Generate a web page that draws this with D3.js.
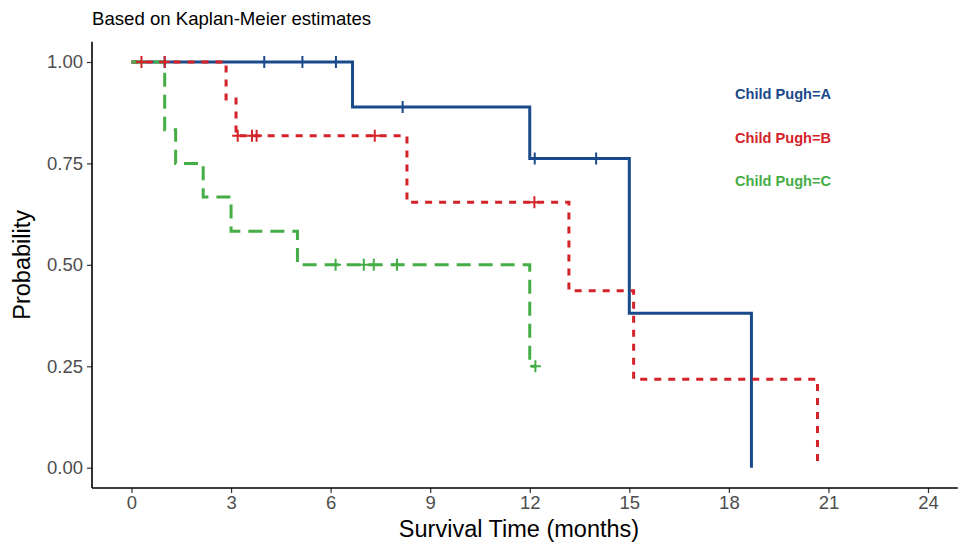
<!DOCTYPE html>
<html><head><meta charset="utf-8">
<script src="https://cdn.jsdelivr.net/npm/d3@7"></script>
<style>body{margin:0;background:#fff}svg{display:block}text{font-family:"Liberation Sans",Arial,sans-serif}</style>
</head><body>
<svg id="c" width="960" height="543"></svg>
<script>
// Data
const groups = ["Child Pugh=A", "Child Pugh=B", "Child Pugh=C"];
const timesA = [0, 6.66, 12.0, 15.0, 18.68];
const survA  = [1, 0.889, 0.762, 0.381, 0];
const censA  = [1.0, 4.0, 5.15, 6.16, 8.17, 12.15, 14.0];
const timesB = [0, 2.85, 3.15, 8.3, 13.18, 15.13, 20.67];
const survB  = [1, 0.909, 0.818, 0.654, 0.436, 0.218, 0];
const censB  = [0.3, 1.0, 3.2, 3.63, 3.77, 7.33, 12.14];
const timesC = [0, 1.0, 1.33, 2.16, 3.0, 5.0, 12.0, 12.17];
const survC  = [1, 0.833, 0.75, 0.667, 0.583, 0.5, 0.25, 0.25];
const censC  = [6.15, 7.0, 7.3, 8.0, 12.17];
const xTicks = [0, 3, 6, 9, 12, 15, 18, 21, 24];
const yTicks = [0, 0.25, 0.5, 0.75, 1];

const colors = ["#1a4a8b", "#d52229", "#45ad45"];
const dashes = [null, "7,7", "14,8"];

const svg = d3.select("#c");
const x = d3.scaleLinear().domain([0, 24]).range([131.5, 928]);
const y = d3.scaleLinear().domain([0, 1]).range([467.7, 62]);
const xMin = -1.19, xMax = 24.9, yMin = -0.05, yMax = 1.05;

// axes
const xAxis = d3.axisBottom(x).tickValues(xTicks).tickSize(5).tickPadding(3).tickFormat(d3.format("d"));
const gx = svg.append("g").attr("transform", `translate(0,${y(yMin)})`).call(xAxis);
gx.select(".domain").remove();
gx.append("line").attr("x1", x(xMin)).attr("x2", x(xMax)).attr("stroke", "#000").attr("stroke-width", 1.6);
const yAxis = d3.axisLeft(y).tickValues(yTicks).tickSize(5).tickPadding(4).tickFormat(d3.format(".2f"));
const gy = svg.append("g").attr("transform", `translate(${x(xMin)},0)`).call(yAxis);
gy.select(".domain").remove();
gy.append("line").attr("y1", y(yMin)).attr("y2", y(yMax)).attr("stroke", "#000").attr("stroke-width", 1.6);
[gx, gy].forEach(g => {
  g.selectAll(".tick line").attr("stroke", "#333").attr("stroke-width", 1.2);
  g.selectAll(".tick text").attr("fill", "#4d4d4d").style("font-size", "18.5px").style("font-family", "Liberation Sans, Arial, sans-serif");
});

const data = [
  {t: timesA, s: survA, c: censA},
  {t: timesB, s: survB, c: censB},
  {t: timesC, s: survC, c: censC}
];
const line = d3.line().x(d => x(d[0])).y(d => y(d[1])).curve(d3.curveStepAfter);
function survAt(g, tt) {
  let v = g.s[0];
  for (let i = 0; i < g.t.length; i++) if (g.t[i] <= tt) v = g.s[i];
  return v;
}
data.forEach((g, i) => {
  const pts = g.t.map((t, j) => [t, g.s[j]]);
  const p = svg.append("path").attr("d", line(pts)).attr("fill", "none")
    .attr("stroke", colors[i]).attr("stroke-width", 3);
  if (dashes[i]) p.attr("stroke-dasharray", dashes[i]);
});
data.forEach((g, i) => {
  g.c.forEach(tt => {
    const cx = x(tt), cy = y(survAt(g, tt));
    svg.append("path").attr("d", `M${cx-5.5},${cy}H${cx+5.5}M${cx},${cy-6}V${cy+6}`)
      .attr("stroke", colors[i]).attr("stroke-width", 2).attr("fill", "none");
  });
});

// legend
groups.forEach((n, i) => {
  svg.append("text").attr("x", 735).attr("y", 99 + i * 43.5).text(n)
    .attr("fill", colors[i]).style("font-size", "14.6px").style("font-weight", "bold");
});

// titles
svg.append("text").attr("x", 92).attr("y", 25).text("Based on Kaplan-Meier estimates")
  .style("font-size", "18.6px").attr("fill", "#000");
svg.append("text").attr("x", 519).attr("y", 536.5).attr("text-anchor", "middle")
  .text("Survival Time (months)").style("font-size", "23.5px").attr("fill", "#000");
svg.append("text").attr("transform", `translate(30,${(y(yMin) + y(yMax)) / 2}) rotate(-90)`)
  .attr("text-anchor", "middle").text("Probability").style("font-size", "23.5px").attr("fill", "#000");
</script>
</body></html>
